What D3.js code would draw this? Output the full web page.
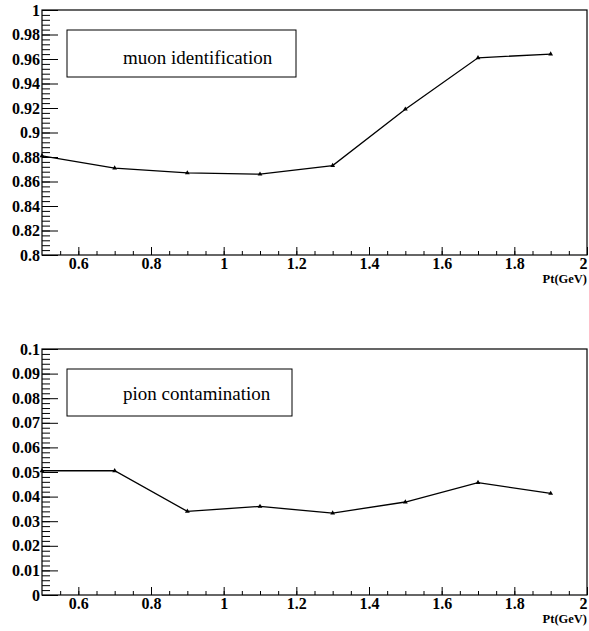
<!DOCTYPE html>
<html>
<head>
<meta charset="utf-8">
<script src="https://cdn.jsdelivr.net/npm/d3@7"></script>
<style>
  body { margin: 0; background: white; }
</style>
</head>
<body>
<div id="chart"></div>
<script>
// Pt bins (GeV)
const pt = [0.5, 0.7, 0.9, 1.1, 1.3, 1.5, 1.7, 1.9];
// muon identification efficiency
const muonEff = [0.881, 0.871, 0.867, 0.866, 0.873, 0.919, 0.961, 0.964];
// pion contamination
const pionCont = [0.0505, 0.0505, 0.034, 0.036, 0.0333, 0.0378, 0.0457, 0.0413];

const xTicks = [0.6, 0.8, 1, 1.2, 1.4, 1.6, 1.8, 2];
const xMinor = d3.range(11, 41).map(i => i * 0.05);

const serif = 'Liberation Serif';

let dim = { width: 589, height: 631 };

let svg = d3.select('#chart').append('svg')
    .attr('width', dim.width)
    .attr('height', dim.height)
    .style('background', 'white');

let panels = [
    { values: muonEff, yDomain: [0.8, 1], major: 0.02, minor: 0.004, dec: 2,
      top: 10, bottom: 255, label: 'muon identification',
      box: [67, 30, 296, 77], textX: 123, textY: 64 },
    { values: pionCont, yDomain: [0, 0.1], major: 0.01, minor: 0.002, dec: 2,
      top: 349, bottom: 595, label: 'pion contamination',
      box: [67, 369, 292, 416], textX: 123, textY: 400 }
];

const left = 42, right = 587;

let x = d3.scaleLinear().domain([0.5, 2]).range([left, right]);

function boldLabels(a){
    a.attr('font-family', serif).attr('font-size', 16);
    a.selectAll('text')
        .attr('font-family', serif)
        .attr('font-size', 16)
        .attr('font-weight', 'bold')
        .attr('fill', 'black');
}

panels.forEach(function(p){
    let y = d3.scaleLinear().domain(p.yDomain).range([p.bottom, p.top]);
    let g = svg.append('g');

    let nMaj = Math.round((p.yDomain[1] - p.yDomain[0]) / p.major);
    let nMin = Math.round((p.yDomain[1] - p.yDomain[0]) / p.minor);
    let yMajor = d3.range(0, nMaj + 1).map(i => +(p.yDomain[0] + i * p.major).toFixed(4));
    let yMinor = d3.range(0, nMin + 1).map(i => +(p.yDomain[0] + i * p.minor).toFixed(5));

    // minor y ticks
    g.append('g')
        .attr('transform', `translate(${left},0)`)
        .call(d3.axisLeft(y).tickValues(yMinor).tickSize(-8).tickFormat(''))
        .call(a => a.select('.domain').remove());

    // major y ticks + labels
    g.append('g')
        .attr('transform', `translate(${left},0)`)
        .call(d3.axisLeft(y).tickValues(yMajor).tickSize(-16).tickPadding(2)
            .tickFormat(d => String(+d.toFixed(p.dec))))
        .call(a => a.select('.domain').remove())
        .call(boldLabels);

    // minor x ticks
    g.append('g')
        .attr('transform', `translate(0,${p.bottom})`)
        .call(d3.axisBottom(x).tickValues(xMinor).tickSize(-4).tickFormat(''))
        .call(a => a.select('.domain').remove());

    // major x ticks + labels
    g.append('g')
        .attr('transform', `translate(0,${p.bottom})`)
        .call(d3.axisBottom(x).tickValues(xTicks).tickSize(-8).tickPadding(3)
            .tickFormat(d => String(+d.toFixed(1))))
        .call(a => a.select('.domain').remove())
        .call(boldLabels)
        .call(a => a.selectAll('text').attr('dx', d => d === 2 ? -4 : 0));

    g.selectAll('.tick line').attr('stroke', 'black').attr('stroke-width', 1);

    // frame
    g.append('rect')
        .attr('x', left).attr('y', p.top)
        .attr('width', right - left).attr('height', p.bottom - p.top)
        .attr('fill', 'none').attr('stroke', 'black').attr('stroke-width', 1.2);

    // axis title
    g.append('text')
        .attr('x', right).attr('y', p.bottom + 28)
        .attr('text-anchor', 'end')
        .attr('font-family', serif)
        .attr('font-size', 12.5).attr('font-weight', 'bold')
        .text('Pt(GeV)');

    // data line
    let pts = pt.map((v, i) => [v, p.values[i]]);
    g.append('path')
        .datum(pts)
        .attr('d', d3.line().x(d => x(d[0])).y(d => y(d[1])))
        .attr('fill', 'none').attr('stroke', 'black').attr('stroke-width', 1.3);

    g.selectAll('.marker')
        .data(pts)
        .join('path')
        .attr('class', 'marker')
        .attr('transform', d => `translate(${x(d[0])},${y(d[1])})`)
        .attr('d', d3.symbol().type(d3.symbolTriangle).size(10))
        .attr('fill', 'black');

    // legend box
    g.append('rect')
        .attr('x', p.box[0]).attr('y', p.box[1])
        .attr('width', p.box[2] - p.box[0]).attr('height', p.box[3] - p.box[1])
        .attr('fill', 'white').attr('stroke', 'black').attr('stroke-width', 1);
    g.append('text')
        .attr('x', p.textX).attr('y', p.textY)
        .attr('font-family', serif)
        .attr('font-size', 19)
        .text(p.label);
});
</script>
</body>
</html>
